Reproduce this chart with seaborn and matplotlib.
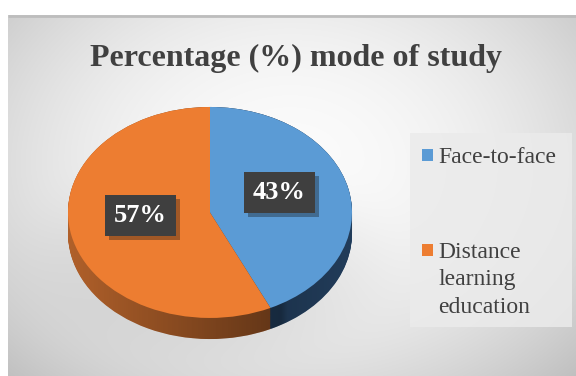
import numpy as np
import matplotlib
matplotlib.use("Agg")
import matplotlib.pyplot as plt
import matplotlib.patheffects as pe
from matplotlib.patches import Rectangle, PathPatch
from matplotlib.path import Path
import seaborn as sns

# ---- data ----
categories = ["Face-to-face", "Distance\nlearning\neducation"]
values = [43, 57]
title = "Percentage (%) mode of study"
top_colors = ["#5B9BD5", "#ED7D31"]
side_colors = ["#2A4B70", "#B0602A"]

sns.set_theme(style="white")
plt.rcParams["font.family"] = ["Liberation Serif", "DejaVu Serif"]
palette = sns.color_palette(top_colors)

W, H = 576, 376
fig = plt.figure(figsize=(W / 100, H / 100), dpi=100)
fig.patch.set_facecolor("white")

# ---- background (chart area with radial gradient) ----
bg = fig.add_axes([0, 0, 1, 1], zorder=0)
bg.set_xlim(0, W)
bg.set_ylim(H, 0)
bg.axis("off")
X, Y = np.meshgrid(np.arange(8, W) + 0.5, np.arange(15, H) + 0.5)
r2 = ((X - 290) / 330) ** 2 + ((Y - 165) / 250) ** 2
val = 0.985 - 0.16 * r2
val -= 0.07 * np.exp(-((((X - 212) / 160) ** 2 + ((Y - 265) / 88) ** 2)) ** 2)
val = np.clip(val, 0, 1)
img = np.dstack([val, val, val])
bg.imshow(img, extent=(8, W, H, 15), aspect="auto", interpolation="bilinear")
bg.plot([8, W], [15.5, 15.5], color="#bdbdbd", lw=2, solid_capstyle="butt")

# ---- pie axes (squashed to look 3-D) ----
ax_l, ax_b, ax_w, ax_h = 60.9, 26.4, 298.2, 247.9
ax = fig.add_axes([ax_l / W, ax_b / H, ax_w / W, ax_h / H], zorder=2)
ax.patch.set_alpha(0)

thick = 0.2
for d in np.linspace(thick, 0.0, 30):
    ax.pie(values, colors=side_colors, startangle=90, counterclock=False,
           center=(0, -d), wedgeprops=dict(linewidth=0))

# shading of the side wall (darker towards the right)
t = np.linspace(0, np.pi, 200)
upper = np.column_stack([np.cos(t), np.sin(t)])
lower = np.column_stack([-np.cos(t), -thick - np.sin(t)])
outline = np.vstack([upper, lower, upper[:1]])
clip = PathPatch(Path(outline), transform=ax.transData, facecolor="none", edgecolor="none")
ax.add_patch(clip)
gx = np.linspace(-1, 1, 300)
alpha = np.interp(gx, [-1.0, -0.6, 0.5, 0.55, 1.0], [0.0, 0.12, 0.45, 0.3, 0.2])
shade = np.zeros((1, gx.size, 4))
shade[..., 3] = alpha
im = ax.imshow(shade, extent=(-1, 1, -thick - 1, 1), aspect="auto",
               interpolation="bilinear", zorder=1.5)
im.set_clip_path(clip)

wedges, texts, autotexts = ax.pie(
    values, colors=palette, startangle=90, counterclock=False,
    autopct=lambda p: f"{p:.0f}%", pctdistance=0.5,
    wedgeprops=dict(linewidth=0, zorder=3),
    textprops=dict(color="white", fontsize=19, fontweight="bold",
                   family=["Liberation Serif"]))
for t_ in autotexts:
    x0, y0 = t_.get_position()
    t_.set_position((x0, y0 + 0.08))
    t_.set_bbox(dict(boxstyle="square,pad=0.34", facecolor="#3F3F3F", edgecolor="none"))
    t_.get_bbox_patch().set_path_effects(
        [pe.SimplePatchShadow(offset=(3, -3), alpha=0.35), pe.Normal()])
    t_.set_zorder(5)

ax.set_aspect("auto")
ax.set_xlim(-1.05, 1.05)
ax.set_ylim(-1.3, 1.05)
ax.axis("off")

# ---- title ----
fig.text(296 / W, 1 - 66 / H, title, ha="center", va="baseline",
         fontsize=23, fontweight="bold", color="#404040", zorder=3)

# ---- legend ----
lg = fig.add_axes([0, 0, 1, 1], zorder=3)
lg.set_xlim(0, W)
lg.set_ylim(H, 0)
lg.axis("off")
lg.add_patch(Rectangle((410, 133), 162, 194, facecolor="#ebebeb", edgecolor="none", alpha=0.85))
baselines = [163, 258]
line_step = 27.5
for lab, col, yb in zip(categories, palette, baselines):
    lg.add_patch(Rectangle((422, yb - 14.5), 11, 12, facecolor=col, edgecolor="none"))
    for i, line in enumerate(lab.split("\n")):
        lg.text(438, yb + i * line_step, line, ha="left", va="baseline",
                fontsize=17, color="#404040")

fig.savefig("out.png", dpi=100)
